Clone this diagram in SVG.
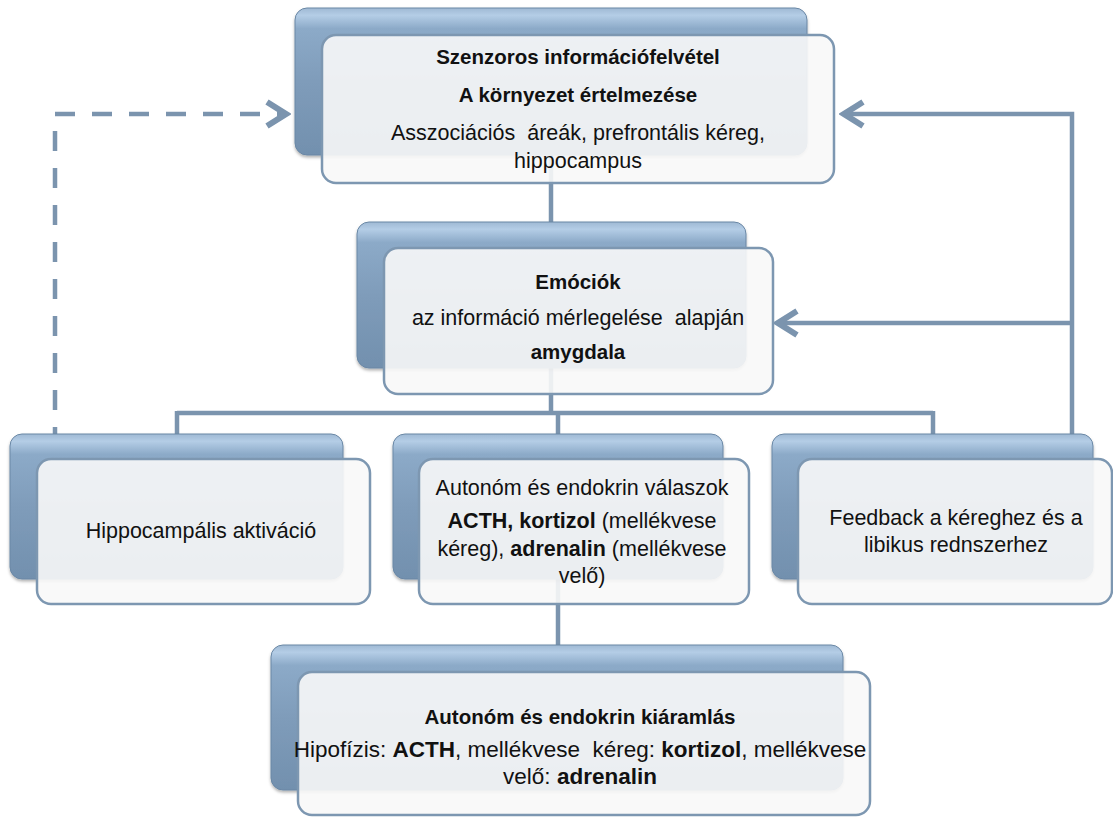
<svg xmlns="http://www.w3.org/2000/svg" width="1113" height="817" viewBox="0 0 1113 817">
  <defs>
    <linearGradient id="backGrad" x1="0" y1="0" x2="0" y2="1">
      <stop offset="0" stop-color="#9fb9d4"/>
      <stop offset="0.05" stop-color="#b4cde6"/>
      <stop offset="0.14" stop-color="#8caac8"/>
      <stop offset="0.5" stop-color="#7f9cba"/>
      <stop offset="1" stop-color="#7290ae"/>
    </linearGradient>
    <filter id="shadow" x="-5%" y="-5%" width="110%" height="115%">
      <feDropShadow dx="0" dy="2" stdDeviation="1.5" flood-color="#000" flood-opacity="0.3"/>
    </filter>
    <marker id="chev" viewBox="-26 -16 30 32" markerWidth="30" markerHeight="32" refX="0" refY="0" orient="auto" markerUnits="userSpaceOnUse">
      <path d="M-20,-12 L-1,0 L-20,12" fill="none" stroke="#7b94ae" stroke-width="6" stroke-linecap="butt" stroke-linejoin="miter"/>
    </marker>
    <style>
      .back { fill: url(#backGrad); stroke: #6a87a5; stroke-width: 1; filter: url(#shadow); }
      .front { fill: #f8f8f8; fill-opacity: 0.9; stroke: #7d97b1; stroke-width: 2.5; }
      .conn { fill: none; stroke: #7b94ae; stroke-width: 4.5; }
      .dash { stroke-dasharray: 20 17; stroke-dashoffset: 13; }
      text { font-family: "Liberation Sans", Arial, sans-serif; font-size: 21.5px; fill: #111; text-anchor: middle; white-space: pre; }
      .b { font-weight: bold; }
      .big { font-size: 22.5px; }
      .title { font-weight: bold; font-size: 20.5px; }
    </style>
  </defs>

  <g id="connectors">
    <path class="conn" d="M551,155 V222"/>
    <path class="conn" d="M551,368 V413 M177,413 H933 M177,411 V434 M558,413 V434 M933,411 V434"/>
    <path class="conn" d="M558,579 V645"/>
    <path class="conn dash" d="M55,434 V114 H287" marker-end="url(#chev)"/>
    <path class="conn" d="M1072,434 V114 H843" marker-end="url(#chev)"/>
    <path class="conn" d="M1072,323 H777" marker-end="url(#chev)"/>
  </g>

  <g id="node-szenzoros">
    <rect class="back" x="295" y="8" width="512" height="147" rx="12"/>
    <rect class="front" x="322" y="35" width="512" height="148" rx="14"/>
    <text x="578" y="64" class="title">Szenzoros információfelvétel</text>
    <text x="578" y="102" class="title">A környezet értelmezése</text>
    <text x="578" y="140" xml:space="preserve">Asszociációs  áreák, prefrontális kéreg,</text>
    <text x="578" y="168">hippocampus</text>
  </g>

  <g id="node-emociok">
    <rect class="back" x="357" y="222" width="389" height="146" rx="12"/>
    <rect class="front" x="384" y="248" width="389" height="146" rx="14"/>
    <text x="578" y="289" class="title">Emóciók</text>
    <text x="578" y="325" xml:space="preserve">az információ mérlegelése  alapján</text>
    <text x="578" y="359" class="title">amygdala</text>
  </g>

  <g id="node-hippocampalis">
    <rect class="back" x="10" y="434" width="333" height="145" rx="12"/>
    <rect class="front" x="37" y="459" width="333" height="145" rx="14"/>
    <text x="201" y="538">Hippocampális aktiváció</text>
  </g>

  <g id="node-autonom-valaszok">
    <rect class="back" x="393" y="434" width="330" height="145" rx="12"/>
    <rect class="front" x="419" y="459" width="330" height="145" rx="14"/>
    <text x="582" y="495">Autonóm és endokrin válaszok</text>
    <text x="582" y="528"><tspan class="b">ACTH, kortizol</tspan> (mellékvese</text>
    <text x="582" y="556">kéreg), <tspan class="b">adrenalin</tspan> (mellékvese</text>
    <text x="582" y="583">velő)</text>
  </g>

  <g id="node-feedback">
    <rect class="back" x="772" y="434" width="321" height="145" rx="12"/>
    <rect class="front" x="798" y="459" width="314" height="145" rx="14"/>
    <text x="956" y="525">Feedback a kéreghez és a</text>
    <text x="956" y="552">libikus rednszerhez</text>
  </g>

  <g id="node-kiaramlas">
    <rect class="back" x="271" y="645" width="572" height="145" rx="12"/>
    <rect class="front" x="298" y="672" width="572" height="143" rx="14"/>
    <text x="580" y="724" class="title">Autonóm és endokrin kiáramlás</text>
    <text x="580" y="757" class="big" xml:space="preserve">Hipofízis: <tspan class="b">ACTH</tspan>, mellékvese  kéreg: <tspan class="b">kortizol</tspan>, mellékvese</text>
    <text x="580" y="784" class="big">velő: <tspan class="b">adrenalin</tspan></text>
  </g>
</svg>
